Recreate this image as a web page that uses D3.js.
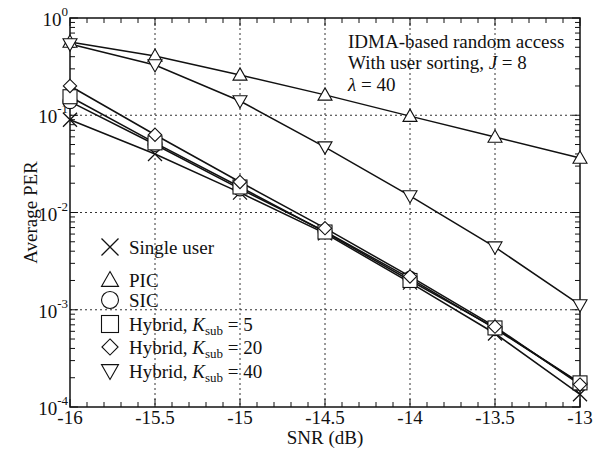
<!DOCTYPE html>
<html>
<head>
<meta charset="utf-8">
<script src="https://d3js.org/d3.v7.min.js"></script>
<style>
  body { margin: 0; background: #fff; }
  svg text { fill: #111; }
</style>
</head>
<body>
<div id="chart"></div>
<script>
// data
const snr = [-16, -15.5, -15, -14.5, -14, -13.5, -13];
const singleUser = [0.090, 0.040, 0.0160, 0.0061, 0.0019, 0.00057, 0.000135];
const pic        = [0.567, 0.406, 0.260, 0.162, 0.098, 0.0597, 0.0364];
const sic        = [0.138, 0.050, 0.0175, 0.0064, 0.0021, 0.00064, 0.000175];
const hyb5       = [0.155, 0.052, 0.0183, 0.0063, 0.0020, 0.00065, 0.000177];
const hyb20      = [0.200, 0.063, 0.0206, 0.0069, 0.0022, 0.00067, 0.000170];
const hyb40      = [0.540, 0.329, 0.140, 0.047, 0.0148, 0.0044, 0.00112];
const xTicks = [-16, -15.5, -15, -14.5, -14, -13.5, -13];
const yTicks = [1, 1e-1, 1e-2, 1e-3, 1e-4];

const series = [
  {name: "Single user", values: singleUser, shape: "x"},
  {name: "PIC", values: pic, shape: "up"},
  {name: "SIC", values: sic, shape: "circle"},
  {name: "Hybrid5", values: hyb5, shape: "square", k: "5"},
  {name: "Hybrid20", values: hyb20, shape: "diamond", k: "20"},
  {name: "Hybrid40", values: hyb40, shape: "down", k: "40"}
];

const W = 601, H = 450;
const m = {left: 70, right: 21, top: 18, bottom: 43};
const svg = d3.select("#chart").append("svg").attr("width", W).attr("height", H)
  .attr("font-family", "'Liberation Serif', 'Times New Roman', serif");

const x = d3.scaleLinear().domain([-16, -13]).range([m.left, W - m.right]);
const y = d3.scaleLog().domain([1e-4, 1]).range([H - m.bottom, m.top]);

// grid
const grid = svg.append("g").attr("stroke", "#333").attr("stroke-width", 1).attr("stroke-dasharray", "2,3");
xTicks.slice(1, -1).forEach(t => {
  grid.append("line").attr("x1", x(t)).attr("x2", x(t)).attr("y1", y.range()[1]).attr("y2", y.range()[0]);
});
yTicks.slice(1, -1).forEach(t => {
  grid.append("line").attr("y1", y(t)).attr("y2", y(t)).attr("x1", x.range()[0]).attr("x2", x.range()[1]);
});

// minor ticks
const minorX = d3.range(-16, -12.95, 0.1);
const minorY = [];
[1e-4, 1e-3, 1e-2, 1e-1].forEach(d => { for (let i = 2; i <= 9; i++) minorY.push(d * i); });

const ax = svg.append("g").attr("stroke", "#111").attr("stroke-width", 1);
const x0 = x.range()[0], x1 = x.range()[1], y0 = y.range()[0], y1 = y.range()[1];
minorX.forEach(t => {
  const big = xTicks.some(v => Math.abs(v - t) < 1e-6);
  const len = big ? 8 : 5;
  ax.append("line").attr("x1", x(t)).attr("x2", x(t)).attr("y1", y0).attr("y2", y0 - len);
  ax.append("line").attr("x1", x(t)).attr("x2", x(t)).attr("y1", y1).attr("y2", y1 + len);
});
minorY.forEach(t => {
  ax.append("line").attr("y1", y(t)).attr("y2", y(t)).attr("x1", x0).attr("x2", x0 + 5);
  ax.append("line").attr("y1", y(t)).attr("y2", y(t)).attr("x1", x1).attr("x2", x1 - 5);
});
yTicks.forEach(t => {
  ax.append("line").attr("y1", y(t)).attr("y2", y(t)).attr("x1", x0).attr("x2", x0 + 8);
  ax.append("line").attr("y1", y(t)).attr("y2", y(t)).attr("x1", x1).attr("x2", x1 - 8);
});
svg.append("rect").attr("x", x0).attr("y", y1).attr("width", x1 - x0).attr("height", y0 - y1)
  .attr("fill", "none").attr("stroke", "#111").attr("stroke-width", 1.5);

// tick labels
xTicks.forEach(t => {
  svg.append("text").attr("x", x(t)).attr("y", y0 + 17).attr("text-anchor", "middle")
    .attr("font-size", 19).text(String(t));
});
yTicks.forEach(t => {
  const e = Math.round(Math.log10(t));
  const g = svg.append("text").attr("x", x0 - 2).attr("y", y(t) + 8).attr("text-anchor", "end").attr("font-size", 19);
  g.append("tspan").text("10");
  g.append("tspan").attr("dy", -10).attr("font-size", 13).text(String(e));
});

// axis titles
svg.append("text").attr("x", (x0 + x1) / 2).attr("y", 444).attr("text-anchor", "middle")
  .attr("font-size", 19).text("SNR (dB)");
svg.append("text").attr("transform", `translate(37,${(y0 + y1) / 2}) rotate(-90)`)
  .attr("text-anchor", "middle").attr("font-size", 19).text("Average PER");

// markers
function marker(g, shape, cx, cy, s) {
  const r = s / 2;
  let el;
  if (shape === "x") {
    g.append("path").attr("d", `M${cx - r},${cy - r}L${cx + r},${cy + r}M${cx - r},${cy + r}L${cx + r},${cy - r}`)
      .attr("fill", "none").attr("stroke", "#111").attr("stroke-width", 1.3);
    return;
  } else if (shape === "circle") {
    el = g.append("circle").attr("cx", cx).attr("cy", cy).attr("r", r);
  } else if (shape === "square") {
    el = g.append("rect").attr("x", cx - r).attr("y", cy - r).attr("width", s).attr("height", s);
  } else if (shape === "diamond") {
    const d = r * 0.95;
    el = g.append("path").attr("d", `M${cx},${cy - d}L${cx + d},${cy}L${cx},${cy + d}L${cx - d},${cy}Z`);
  } else if (shape === "up") {
    el = g.append("path").attr("d", `M${cx},${cy - r}L${cx + r},${cy + r * 0.75}L${cx - r},${cy + r * 0.75}Z`);
  } else if (shape === "down") {
    el = g.append("path").attr("d", `M${cx},${cy + r}L${cx + r},${cy - r * 0.75}L${cx - r},${cy - r * 0.75}Z`);
  }
  el.attr("fill", "#fff").attr("stroke", "#111").attr("stroke-width", 1.1);
}

const line = d3.line().x((d, i) => x(snr[i])).y(d => y(d));
const plot = svg.append("g");
series.forEach(s => {
  plot.append("path").datum(s.values).attr("d", line).attr("fill", "none")
    .attr("stroke", "#111").attr("stroke-width", 1.5);
});
series.forEach(s => {
  s.values.forEach((v, i) => marker(plot, s.shape, x(snr[i]), y(v), 14));
});

// legend
const legY = [247, 280, 300, 324, 347, 371];
const leg = svg.append("g");
series.forEach((s, i) => {
  marker(leg, s.shape, 110, legY[i], 17);
  const t = leg.append("text").attr("x", 129).attr("y", legY[i] + 7).attr("font-size", 19);
  if (!s.k) {
    t.text(s.name);
  } else {
    t.append("tspan").text("Hybrid, ");
    t.append("tspan").attr("font-style", "italic").text("K");
    t.append("tspan").attr("font-size", 13).attr("dy", 4).text("sub");
    t.append("tspan").attr("dy", -4).text(" = " + s.k);
  }
});

// annotation
const ann = svg.append("g").attr("font-size", 19);
ann.append("text").attr("x", 348).attr("y", 48).text("IDMA-based  random access");
const l2 = ann.append("text").attr("x", 348).attr("y", 69);
l2.append("tspan").text("With user sorting, ");
l2.append("tspan").attr("font-style", "italic").text("J");
l2.append("tspan").text(" = 8");
const l3 = ann.append("text").attr("x", 348).attr("y", 91);
l3.append("tspan").attr("font-style", "italic").text("λ");
l3.append("tspan").text(" = 40");
</script>
</body>
</html>
